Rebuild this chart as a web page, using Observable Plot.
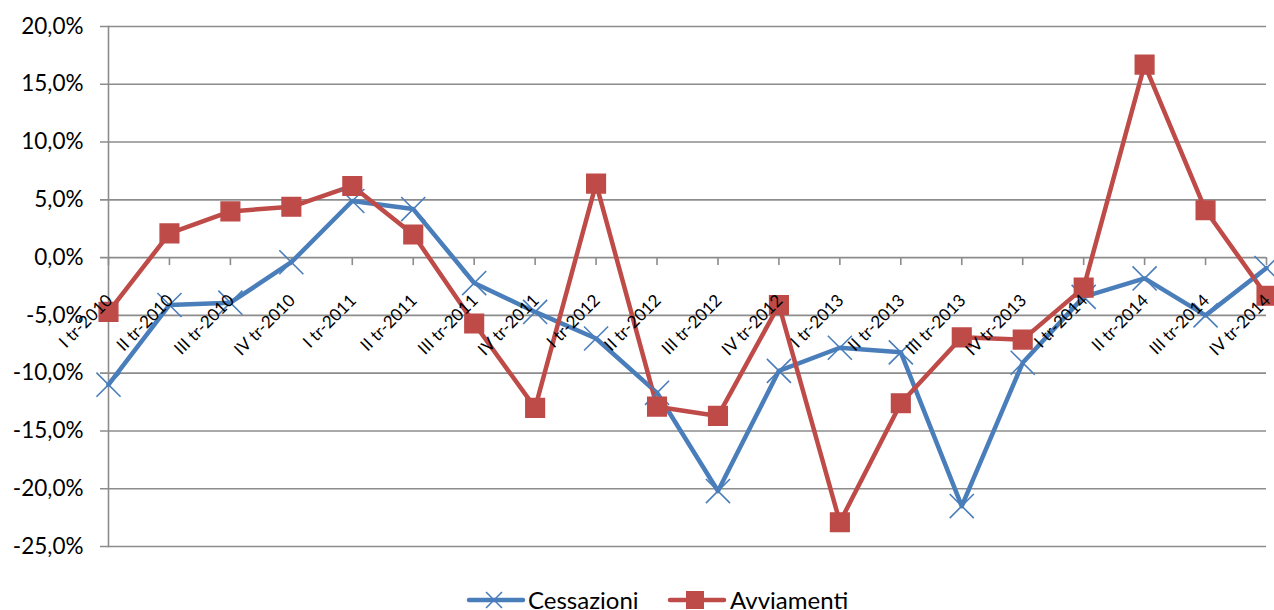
<!DOCTYPE html>
<html>
<head>
<meta charset="utf-8">
<script src="https://cdn.jsdelivr.net/npm/d3@7"></script>
<script src="https://cdn.jsdelivr.net/npm/@observablehq/plot@0.6"></script>
<style>
  html, body { margin: 0; padding: 0; background: #fff; }
  body { width: 1274px; height: 610px; overflow: hidden; position: relative; font-family: Lato, "Open Sans", sans-serif; }
  #legend { position: absolute; left: 0; top: 0; width: 1274px; height: 610px; pointer-events: none; }
  .lg-text { position: absolute; top: 586px; font-size: 24px; line-height: 28px; color: #000; white-space: nowrap; }
  .lg-mark { position: absolute; top: 582px; }
</style>
</head>
<body>
<div id="chart"></div>
<div id="legend"></div>
<script>
const quarters = ["I tr-2010","II tr-2010","III tr-2010","IV tr-2010",
  "I tr-2011","II tr-2011","III tr-2011","IV tr-2011",
  "I tr-2012","II tr-2012","III tr-2012","IV tr-2012",
  "I tr-2013","II tr-2013","III tr-2013","IV tr-2013",
  "I tr-2014","II tr-2014","III tr-2014","IV tr-2014"];
const cessazioni = [-11.0,-4.1,-3.9,-0.4,4.9,4.2,-2.2,-4.7,-7.0,-11.7,-20.2,-9.8,-7.8,-8.2,-21.5,-9.1,-3.4,-1.8,-5.0,-0.9];
const avviamenti = [-4.7,2.1,4.0,4.4,6.2,2.0,-5.7,-13.0,6.4,-12.9,-13.7,-4.1,-22.9,-12.6,-6.9,-7.1,-2.6,16.7,4.1,-3.3];
const yTicks = [-25,-20,-15,-10,-5,0,5,10,15,20];
const seriesNames = ["Cessazioni","Avviamenti"];
const colors = ["#4a7ebb","#be4b48"];

const rows = [];
quarters.forEach((q,i) => {
  rows.push({q, v: cessazioni[i], s: seriesNames[0]});
  rows.push({q, v: avviamenti[i], s: seriesNames[1]});
});
const cRows = rows.filter(d => d.s === "Cessazioni");
const aRows = rows.filter(d => d.s === "Avviamenti");
const fmt = d => d.toFixed(1).replace(".", ",") + "%";
const grid = "#8c8c8c";

const chart = Plot.plot({
  width: 1274,
  height: 560,
  marginLeft: 108,
  marginRight: 8,
  marginTop: 26,
  marginBottom: 14,
  style: {fontFamily: "Lato, 'Open Sans', sans-serif", background: "#fff"},
  x: {type: "point", domain: quarters, padding: 0, round: false, axis: null},
  y: {domain: [-25, 20], ticks: yTicks, axis: null},
  marks: [
    Plot.gridY(yTicks, {stroke: grid, strokeOpacity: 1, strokeWidth: 1.6, insetLeft: -8}),
    Plot.axisY(yTicks, {tickFormat: fmt, tickSize: 0, tickPadding: 25, fontSize: 22.5, fill: "#000", label: null}),
    Plot.frame({anchor: "left", stroke: grid, strokeWidth: 1.6}),
    Plot.ruleX(quarters, {x: d => d, y1: 0, y2: 0, insetBottom: -8, stroke: grid, strokeWidth: 1.6}),
    Plot.line(cRows, {x: "q", y: "v", stroke: colors[0], strokeWidth: 4.5}),
    Plot.line(aRows, {x: "q", y: "v", stroke: colors[1], strokeWidth: 4.5}),
    Plot.dot(cRows, {x: "q", y: "v", symbol: "times", r: 11, stroke: colors[0], strokeWidth: 1.6}),
    Plot.dot(aRows, {x: "q", y: "v", symbol: "square", r: 10.5, fill: colors[1], stroke: colors[1]}),
    Plot.text(quarters, {x: d => d, y: 0, text: d => d, rotate: -45, textAnchor: "end", dx: 1, dy: 40, fontSize: 17, fill: "#000"})
  ]
});
document.getElementById("chart").appendChild(chart);

const legend = document.getElementById("legend");
const lgPos = [{mark: 466, text: 528}, {mark: 667, text: 730}];
seriesNames.forEach((name, i) => {
  const marker = i === 0
    ? `<line x1="20" y1="10" x2="36" y2="26" stroke="${colors[0]}" stroke-width="1.6"/><line x1="36" y1="10" x2="20" y2="26" stroke="${colors[0]}" stroke-width="1.6"/>`
    : `<rect x="19" y="9" width="18" height="18" fill="${colors[1]}"/>`;
  const m = document.createElement("div");
  m.className = "lg-mark";
  m.style.left = lgPos[i].mark + "px";
  m.innerHTML = `<svg width="60" height="36"><line x1="3" y1="18" x2="57" y2="18" stroke="${colors[i]}" stroke-width="4.5" stroke-linecap="round"/>${marker}</svg>`;
  legend.appendChild(m);
  const t = document.createElement("div");
  t.className = "lg-text";
  t.style.left = lgPos[i].text + "px";
  t.textContent = name;
  legend.appendChild(t);
});
</script>
</body>
</html>
